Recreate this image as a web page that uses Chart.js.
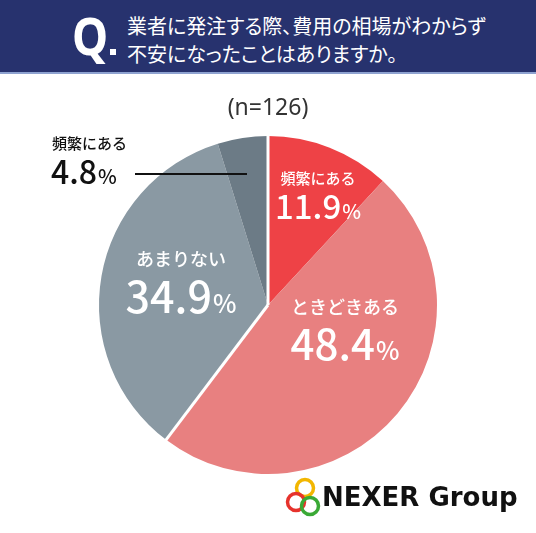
<!DOCTYPE html>
<html lang="ja">
<head>
<meta charset="utf-8">
<script src="https://cdn.jsdelivr.net/npm/chart.js@4/dist/chart.umd.min.js"></script>
<style>
  html, body { margin: 0; padding: 0; background: #fff; }
  body { width: 536px; height: 533px; position: relative; overflow: hidden;
         font-family: "Noto Sans CJK JP", "Noto Sans", sans-serif; }
  #chart { position: absolute; left: 0; top: 0; }
  .header { position: absolute; left: 0; top: 0; width: 536px; height: 72px;
            background: #27326e; border-bottom: 2px solid #8ea2d0; }
  .q { position: absolute; left: 72px; top: 5px; color: #fff; font-size: 52px;
       font-weight: 700; line-height: 60px; font-family: "Noto Sans", sans-serif;
       transform: scaleX(0.88); transform-origin: left top; }
  .qdot { position: absolute; left: 110px; top: 49px; width: 6px; height: 6px; background: #fff; }
  .qtext { position: absolute; left: 127px; top: 12px; color: #fff; font-size: 20px;
           line-height: 28px; font-weight: 400; font-feature-settings: "palt"; }
  .n { position: absolute; left: 0; width: 536px; top: 90px; text-align: center;
       font-size: 23px; color: #333; font-family: "Noto Sans", sans-serif; line-height: 32px; }
  .logo { position: absolute; left: 280px; top: 474px; }
  .logo-text { position: absolute; left: 322px; top: 480px; font-size: 26px; font-weight: 700;
               color: #111; font-family: "DejaVu Sans", sans-serif; line-height: 34px; }
</style>
</head>
<body>
<canvas id="chart" width="536" height="533"></canvas>
<div class="header">
  <div class="q">Q</div>
  <div class="qdot"></div>
  <div class="qtext">業者に発注する際、費用の相場がわからず<br>不安になったことはありますか。</div>
</div>
<div class="n">(n=126)</div>
<svg class="logo" width="44" height="50" viewBox="0 0 44 50">
  <circle cx="25" cy="14" r="8.5" fill="none" stroke="#f2b600" stroke-width="3.5"/>
  <circle cx="16" cy="28" r="8.5" fill="none" stroke="#e6322c" stroke-width="3.5"/>
  <circle cx="30" cy="32" r="8.5" fill="none" stroke="#3aa935" stroke-width="3.5"/>
</svg>
<div class="logo-text">NEXER Group</div>
<script>
const categories = ['頻繁にある', 'ときどきある', 'あまりない', '頻繁にある'];
const values = [11.9, 48.4, 34.9, 4.8];
const sliceColors = ['#ee4246', '#e88080', '#8a99a3', '#6c7b86'];

// where each label sits relative to the pie centre
const labelLayout = [
  { dx: 50, dy: -121, small: 15, big: 33, pct: 20, gap: 35, color: '#fff', align: 'center' },
  { dx: 77, dy: 9, small: 18, big: 42, pct: 25, gap: 46, color: '#fff', align: 'center' },
  { dx: -87, dy: -39, small: 18, big: 43, pct: 25, gap: 47, color: '#fff', align: 'center' },
  { dx: -216, dy: -156, small: 15, big: 32, pct: 20, gap: 35, color: '#111', align: 'left' }
];

const boundaryLines = {
  id: 'boundaryLines',
  afterDatasetsDraw(chart) {
    const ctx = chart.ctx;
    const arcs = chart.getDatasetMeta(0).data;
    const first = arcs[0].getProps(['x', 'y', 'startAngle', 'outerRadius'], true);
    const second = arcs[1].getProps(['endAngle'], true);
    ctx.save();
    ctx.strokeStyle = '#fff';
    ctx.lineWidth = 3;
    [first.startAngle, second.endAngle].forEach(a => {
      ctx.beginPath();
      ctx.moveTo(first.x, first.y);
      ctx.lineTo(first.x + Math.cos(a) * (first.outerRadius + 2), first.y + Math.sin(a) * (first.outerRadius + 2));
      ctx.stroke();
    });
    ctx.restore();
  }
};

const sliceLabels = {
  id: 'sliceLabels',
  afterDraw(chart) {
    const ctx = chart.ctx;
    const arcs = chart.getDatasetMeta(0).data;
    const font = '"Noto Sans CJK JP", "Noto Sans", sans-serif';
    arcs.forEach((arc, i) => {
      const { x, y } = arc.getProps(['x', 'y'], true);
      const lay = labelLayout[i];
      const cx = x + lay.dx;
      const cy = y + lay.dy;
      ctx.save();
      ctx.fillStyle = lay.color;
      ctx.textBaseline = 'alphabetic';

      ctx.font = '500 ' + lay.small + 'px ' + font;
      const cat = categories[i];
      const cw = ctx.measureText(cat).width;
      const catX = lay.align === 'left' ? cx : cx - cw / 2;
      ctx.fillText(cat, catX, cy);

      const num = values[i].toFixed(1);
      ctx.font = '500 ' + lay.big + 'px ' + font;
      const nw = ctx.measureText(num).width;
      ctx.font = '500 ' + lay.pct + 'px ' + font;
      const pw = ctx.measureText('%').width;
      const total = nw + pw + 1;
      const numX = lay.align === 'left' ? cx - 1 : cx - total / 2;
      const numY = cy + lay.gap;
      ctx.font = '500 ' + lay.big + 'px ' + font;
      ctx.fillText(num, numX, numY);
      ctx.font = '500 ' + lay.pct + 'px ' + font;
      ctx.fillText('%', numX + nw + 1, numY);

      if (lay.align === 'left') {
        ctx.strokeStyle = '#111';
        ctx.lineWidth = 2;
        ctx.beginPath();
        ctx.moveTo(x - 133, y - 131);
        ctx.lineTo(x - 21, y - 131);
        ctx.stroke();
      }
      ctx.restore();
    });
  }
};

new Chart(document.getElementById('chart'), {
  type: 'pie',
  data: {
    labels: categories,
    datasets: [{
      data: values,
      backgroundColor: sliceColors,
      borderWidth: 0
    }]
  },
  options: {
    responsive: false,
    animation: false,
    layout: { padding: { left: 99, right: 99, top: 136, bottom: 59 } },
    plugins: {
      legend: { display: false },
      tooltip: { enabled: false }
    }
  },
  plugins: [boundaryLines, sliceLabels]
});
</script>
</body>
</html>
